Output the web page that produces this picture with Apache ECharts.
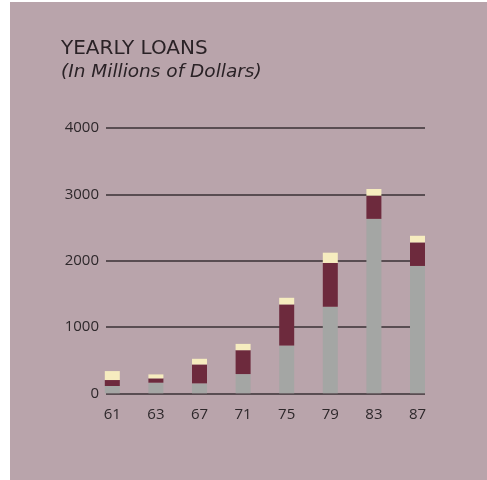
<!DOCTYPE html>
<html><head><meta charset="utf-8">
<script src="https://cdn.jsdelivr.net/npm/echarts@6/dist/echarts.min.js"></script>
<style>html,body{margin:0;padding:0;background:#fff}#c{width:487px;height:480px}</style>
</head><body><div id="c"></div>
<script>
const years = ['61','63','67','71','75','79','83','87'];
const grayVals = [110, 160, 150, 290, 720, 1305, 2630, 1920];
const maroonVals = [90, 65, 285, 360, 620, 660, 350, 355];
const creamVals = [135, 60, 85, 95, 100, 155, 100, 100];
const yTicks = [0, 1000, 2000, 3000, 4000];

const chart = echarts.init(document.getElementById('c'), null, {renderer:'canvas'});
const font = '"Open Sans", sans-serif';
const titleFont = '"DejaVu Sans", sans-serif';
chart.setOption({
  backgroundColor: '#ffffff',
  animation: false,
  graphic: [
    {type:'rect', shape:{x:10, y:2, width:477, height:478}, style:{fill:'#b9a4ab'}, z:-10},
    {type:'text', left:61, top:39, style:{text:'YEARLY LOANS', font:'20px ' + titleFont, fill:'#2a2226'}},
    {type:'text', left:61, top:63, style:{text:'(In Millions of Dollars)', font:'oblique 18.5px ' + titleFont, fill:'#2a2226'}}
  ],
  grid: [
    {left: 90.5, right: 47.7, top: 128, bottom: 86.7},
    {left: 106, right: 62, top: 128, bottom: 86.7}
  ],
  xAxis: [
    {gridIndex:0, type:'category', data: years, boundaryGap:true,
     axisLine:{show:false}, axisTick:{show:false},
     axisLabel:{color:'#2e282b', fontSize:15, fontFamily:font, margin:14}},
    {gridIndex:1, type:'value', min:0, max:1, show:false}
  ],
  yAxis: [
    {gridIndex:0, type:'value', min:0, max:4000, interval:1000, show:false},
    {gridIndex:1, type:'value', min:0, max:4000, interval:1000,
     axisLine:{show:false}, axisTick:{show:false},
     axisLabel:{color:'#2e282b', fontSize:15, fontFamily:font, margin:7,
       formatter: v => yTicks.includes(v) ? String(v) : ''},
     splitLine:{show:true, lineStyle:{color:'#3a3034', width:1.5}}}
  ],
  series: [
    {type:'bar', stack:'a', xAxisIndex:0, yAxisIndex:0, data: grayVals, barWidth:15, itemStyle:{color:'#a4a6a4'}, z:5},
    {type:'bar', stack:'a', xAxisIndex:0, yAxisIndex:0, data: maroonVals, barWidth:15, itemStyle:{color:'#6d2a3d'}, z:5},
    {type:'bar', stack:'a', xAxisIndex:0, yAxisIndex:0, data: creamVals, barWidth:15, itemStyle:{color:'#f6ecbf'}, z:5}
  ]
});
</script></body></html>
